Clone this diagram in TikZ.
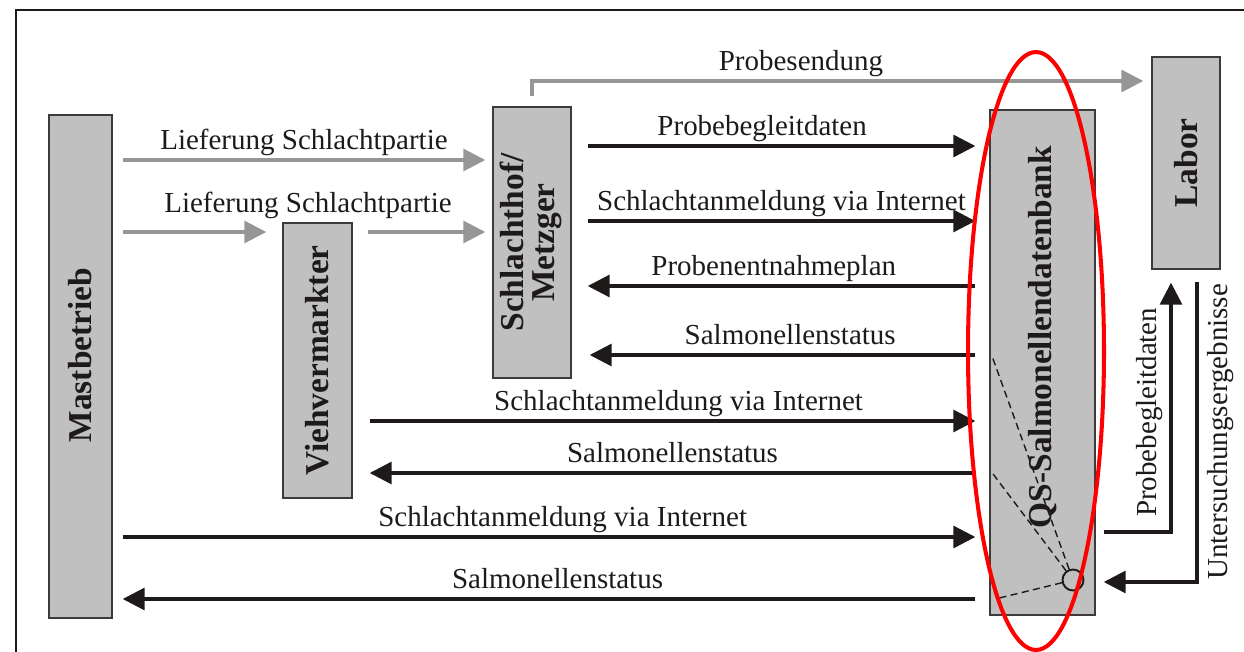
\documentclass[tikz,border=0pt]{standalone}
\usepackage{fontspec}
\setmainfont{Liberation Serif}
\usetikzlibrary{arrows.meta,calc}

\definecolor{boxfill}{RGB}{192,192,192}
\definecolor{boxline}{RGB}{62,58,58}
\definecolor{inkline}{RGB}{30,26,26}
\definecolor{goodsgray}{RGB}{150,150,150}
\definecolor{markred}{RGB}{255,0,0}

\tikzset{
  unit/.style={draw=boxline, fill=boxfill, line width=0.8pt, inner sep=0pt,
    text=inkline, font=\fontsize{19}{18}\selectfont\bfseries},
  flow/.style={draw=inkline, line width=1.8pt, -{Triangle[length=12.5pt,width=12.5pt]}},
  goods/.style={draw=goodsgray, line width=1.8pt, -{Triangle[length=12.5pt,width=12.5pt]}},
  msgtext/.style={font=\fontsize{16.5}{18}\selectfont, text=inkline, inner sep=0pt},
  msg/.style={msgtext, anchor=base, yshift=6.2pt},
  sidemsg/.style={msgtext, rotate=90, inner ysep=4pt},
  link/.style={draw=inkline, line width=0.8pt, dash pattern=on 4pt off 2.5pt},
}

\begin{document}
\begin{tikzpicture}[x=0.02cm, y=-0.02cm]
\useasboundingbox (0,0) rectangle (1244,652);

% frame
\draw[inkline, line width=1.1pt] (16,652) -- (16,10) -- (1244,10);

% participants
\node[unit, minimum width=1.26cm, minimum height=10.06cm] (mast) at (80.5,366.5)
    {\rotatebox{90}{\hspace*{13pt}Mastbetrieb}};
\node[unit, minimum width=1.38cm, minimum height=5.5cm] (vieh) at (317.5,360.5)
    {\rotatebox{90}{Viehvermarkter}};
\node[unit, minimum width=1.56cm, minimum height=5.42cm] (schlacht) at (532,242.5)
    {\rotatebox{90}{\begin{tabular}{@{}c@{}}Schlachthof/\\Metzger\end{tabular}}};
\node[unit, minimum width=2.1cm, minimum height=10.1cm] (qs) at (1042.5,362.5)
    {\rotatebox{90}{\hspace*{29pt}QS-Salmonellendatenbank}};
\node[unit, minimum width=1.36cm, minimum height=4.24cm] (labor) at (1186,163)
    {\rotatebox{90}{Labor}};

% goods and samples
\draw[goods] ($(mast.east |- 0,160)+(10,0)$) -- node[msg]{Lieferung Schlachtpartie} ($(schlacht.west |- 0,160)+(-7,0)$);
\draw[goods] ($(mast.east |- 0,232)+(10,0)$) -- ($(vieh.west |- 0,232)+(-16,0)$);
\draw[goods] ($(vieh.east |- 0,232)+(15,0)$) -- ($(schlacht.west |- 0,232)+(-7,0)$);
\node[msgtext, anchor=base] (lieflbl) at (308,212) {Lieferung Schlachtpartie};
\draw[goods] ($(schlacht.north)+(0,-10)$) |- node[msg, pos=0.72]{Probesendung} ($(labor.west |- 0,81)+(-8,0)$);

% Schlachthof <-> QS
\draw[flow] ($(schlacht.east |- 0,146)+(16,0)$) -- node[msg, pos=0.45]{Probebegleitdaten} ($(qs.west |- 0,146)+(-14,0)$);
\draw[flow] ($(schlacht.east |- 0,221)+(16,0)$) -- node[msg]{Schlachtanmeldung via Internet} ($(qs.west |- 0,221)+(-14,0)$);
\draw[flow] ($(qs.west |- 0,286)+(-14,0)$) -- node[msg, pos=0.52]{Probenentnahmeplan} ($(schlacht.east |- 0,286)+(16,0)$);
\draw[flow] ($(qs.west |- 0,355)+(-14,0)$) -- node[msg, pos=0.48]{Salmonellenstatus} ($(schlacht.east |- 0,355)+(18,0)$);

% Viehvermarkter, Mastbetrieb <-> QS
\foreach \src/\gap/\yin/\yout/\pin/\pout in {vieh/17/421/473/0.51/0.5, mast/10/537/599/0.516/0.49} {
  \draw[flow] ($(\src.east |- 0,\yin)+(\gap,0)$) -- node[msg, pos=\pin]{Schlachtanmeldung via Internet} ($(qs.west |- 0,\yin)+(-14,0)$);
  \draw[flow] ($(qs.west |- 0,\yout)+(-14,0)$) -- node[msg, pos=\pout]{Salmonellenstatus} ($(\src.east |- 0,\yout)+(\gap,0)$);
}

% QS <-> Labor
\draw[flow] ($(qs.east |- 0,532)+(8,0)$) -| node[sidemsg, anchor=south, pos=0.74]{Probebegleitdaten} ($(labor.south)+(-15,13)$);
\draw[flow] ($(labor.south)+(11,12)$) |- node[sidemsg, anchor=north, pos=0.25, inner ysep=5pt]{Untersuchungsergebnisse} ($(qs.east |- 0,582)+(8,0)$);

% links inside the database
\node[circle, draw=inkline, line width=1.1pt, minimum size=0.42cm, inner sep=0pt] (hub) at (1073,580) {};
\coordinate (tapa) at ($(qs.west |- 0,357)+(3,0)$);
\coordinate (tapb) at ($(qs.west |- 0,473)+(3,0)$);
\coordinate (tapc) at ($(qs.west |- 0,598)+(10,0)$);
\foreach \t in {tapa,tapb,tapc} \draw[link] (hub) -- (\t);

% highlight
\draw[markred, line width=2.3pt] (1036,351) ellipse [x radius=1.36cm, y radius=5.98cm];

\end{tikzpicture}
\end{document}
